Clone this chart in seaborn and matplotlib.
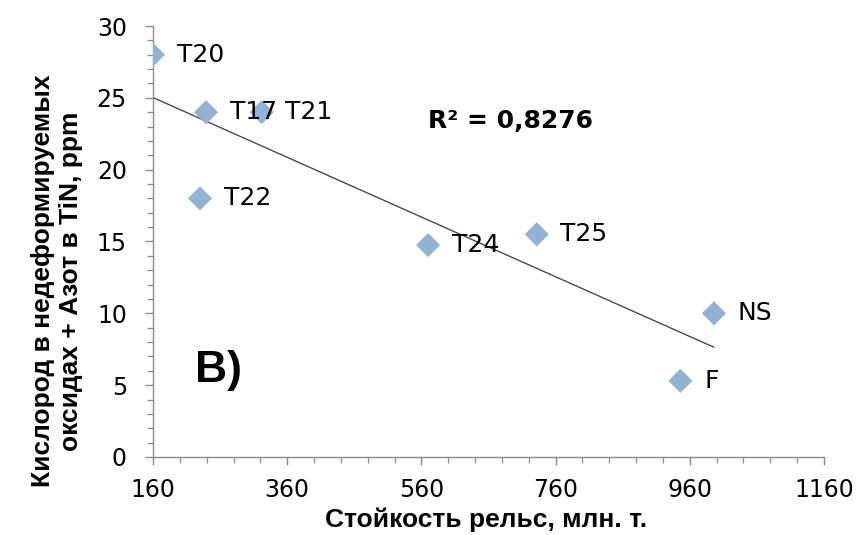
import matplotlib
matplotlib.use("Agg")
import matplotlib.pyplot as plt
from matplotlib.ticker import MultipleLocator, FixedLocator
import pandas as pd
import seaborn as sns

# Rail durability vs. oxygen in non-deformable oxides + nitrogen in TiN
labels = ["T20", "T17", "T21", "T22", "T24", "T25", "NS", "F"]
durability = [160, 239, 322, 230, 570, 732, 996, 946]
gas_ppm = [28.0, 24.0, 24.0, 18.0, 14.75, 15.5, 10.0, 5.3]
x_ticks = [160, 360, 560, 760, 960, 1160]
y_ticks = [0, 5, 10, 15, 20, 25, 30]
r2_text = "R² = 0,8276"
panel_tag = "B)"

df = pd.DataFrame({"label": labels, "x": durability, "y": gas_ppm})

sns.set_theme(style="white")
plt.rcParams["font.family"] = ["DejaVu Sans"]
plt.rcParams["text.color"] = "black"
plt.rcParams["axes.labelcolor"] = "black"

fig = plt.figure(figsize=(8.64, 5.35), dpi=100)
ax = fig.add_axes([0.1771, 0.1458, 0.7766, 0.8056])

marker_color = "#92B2D4"
sns.regplot(data=df, x="x", y="y", scatter=False, ci=None, ax=ax,
            line_kws={"color": "#3a3a3a", "linewidth": 0.9})
sns.scatterplot(data=df, x="x", y="y", marker="D", s=150, color=marker_color,
                edgecolor="none", ax=ax, zorder=3)

for lab, xv, yv in zip(labels, durability, gas_ppm):
    ax.annotate(lab, (xv, yv), xytext=(17, 0), textcoords="offset points",
                ha="left", va="center", fontsize=18, color="black", zorder=4)

ax.text(570, 23.4, r2_text, fontsize=18, fontweight="bold", color="black",
        ha="left", va="center")
ax.text(222, 6.0, panel_tag, fontsize=32, fontweight="bold", ha="left",
        va="center", color="black", family=["Liberation Sans", "DejaVu Sans"])

ax.set_xlim(x_ticks[0], x_ticks[-1])
ax.set_ylim(y_ticks[0], y_ticks[-1])
ax.xaxis.set_major_locator(FixedLocator(x_ticks))
ax.xaxis.set_minor_locator(MultipleLocator(40))
ax.yaxis.set_major_locator(FixedLocator(y_ticks))
ax.yaxis.set_minor_locator(MultipleLocator(1))

spine_color = "#8c8c8c"
for side in ("top", "right"):
    ax.spines[side].set_visible(False)
for side in ("left", "bottom"):
    ax.spines[side].set_color(spine_color)
    ax.spines[side].set_linewidth(1.0)

ax.tick_params(axis="both", which="both", direction="out", color=spine_color,
               bottom=True, left=True)
ax.tick_params(axis="both", which="major", length=5.8, width=1, labelsize=17,
               labelcolor="black")
ax.tick_params(axis="both", which="minor", length=4.3, width=0.9)
ax.tick_params(axis="x", which="major", pad=9)
ax.tick_params(axis="y", which="major", pad=13)

ax.set_xlabel("Стойкость рельс, млн. т.", fontsize=19, fontweight="bold",
              color="black", family=["Liberation Sans", "DejaVu Sans"])
ax.xaxis.set_label_coords(0.496, -0.118)
ax.set_ylabel("Кислород в недеформируемых\nоксидах + Азот в TiN, ppm",
              fontsize=19, fontweight="bold", linespacing=1.2, color="black",
              family=["Liberation Sans", "DejaVu Sans"])
ax.yaxis.set_label_coords(-0.104, 0.408)

fig.savefig("out.png", dpi=100)
